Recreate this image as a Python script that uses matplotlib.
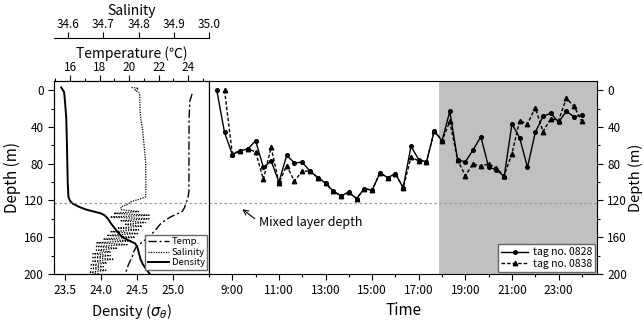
#!/usr/bin/env python3
"""Diving depth of two tags vs. a CTD profile (temperature, salinity, density)."""

import numpy as np
import matplotlib

matplotlib.use("Agg")
import matplotlib.pyplot as plt
from matplotlib.ticker import MultipleLocator, FixedLocator

plt.rcParams["font.family"] = ["Noto Sans CJK JP", "DejaVu Sans"]
plt.rcParams["axes.unicode_minus"] = False

# ---- CTD profile (left panel) ----
density_depth = [-3, 2, 10, 30, 60, 100, 116, 120, 123, 127, 130, 132, 134, 136,
                 140, 145, 150, 155, 160, 164, 167, 172, 178, 184, 189, 195, 200]
density_sigma = [23.45, 23.49, 23.50, 23.52, 23.53, 23.54, 23.55, 23.57, 23.60,
                 23.70, 23.80, 23.90, 24.00, 24.05, 24.10, 24.14, 24.19, 24.24,
                 24.30, 24.40, 24.48, 24.51, 24.53, 24.55, 24.58, 24.63, 24.68]

temp_depth = [4, 12, 30, 60, 110, 118, 122, 128, 132, 135, 138, 142, 146, 152,
              158, 164, 170, 176, 182, 188, 194, 200]
temp_value = [24.27, 24.12, 24.07, 24.06, 24.06, 23.98, 23.88, 23.75, 23.60,
              23.20, 22.80, 22.40, 22.10, 21.80, 21.45, 21.00, 20.50, 20.30,
              20.20, 20.00, 19.85, 19.75]

sal_depth = [-3, -2, 0, 2, 5, 27, 45, 78, 107, 116, 119, 121, 124, 127,
             130, 132, 134, 136, 138, 140, 142, 144, 146, 148, 150, 152, 154,
             156, 158, 160, 162, 164, 166, 168, 170, 172, 174, 176, 178, 180,
             182, 184, 186, 188, 190, 192, 194, 196, 198, 200]
sal_value = [34.78, 34.80, 34.79, 34.80, 34.803, 34.805, 34.812, 34.82, 34.821,
             34.82, 34.80, 34.78, 34.77, 34.75,
             34.75, 34.80, 34.73, 34.83, 34.72, 34.83, 34.75, 34.82, 34.76,
             34.81, 34.74, 34.80, 34.72, 34.80, 34.71, 34.79, 34.70, 34.78,
             34.68, 34.77, 34.68, 34.74, 34.68, 34.72, 34.67, 34.72, 34.67,
             34.73, 34.67, 34.71, 34.665, 34.70, 34.665, 34.71, 34.66, 34.69]

# ---- tag depth time series (right panel), hours, every 20 min ----
hours = [8.333, 8.667, 9.0, 9.333, 9.667, 10.0, 10.333, 10.667, 11.0, 11.333,
         11.667, 12.0, 12.333, 12.667, 13.0, 13.333, 13.667, 14.0, 14.333,
         14.667, 15.0, 15.333, 15.667, 16.0, 16.333, 16.667, 17.0, 17.333,
         17.667, 18.0, 18.333, 18.667, 19.0, 19.333, 19.667, 20.0, 20.333,
         20.667, 21.0, 21.333, 21.667, 22.0, 22.333, 22.667, 23.0, 23.333,
         23.667, 24.0]
tag_0828 = [0, 46, 70, 66, 64, 55, 84, 77, 100, 71, 79, 78.5, 88, 95, 101, 110,
            115, 111, 118, 107, 109, 90, 95, 91, 106, 61, 75.5, 78, 44.6, 55,
            23, 75.6, 78, 65, 50.5, 84, 86.5, 94, 36.6, 52, 84, 46, 28.6, 25,
            34.8, 23, 29, 27]
tag_0838 = [np.nan, 0, 69, 66, 64, 67, 97, 62, 101, 82, 99, 88, 88, 95, 101,
            110, 115, 111, 118, 107, 109, 90, 95, 91, 106, 73, 77, 78, 44, 55,
            34, 76, 93, 80, 83, 80, 85, 93, 69, 33, 37, 19, 45, 31, 33, 9,
            17.5, 34]

night_start = 17.85
mixed_layer_depth = 123
time_ticks = [9, 11, 13, 15, 17, 19, 21, 23]


def style_depth_axis(ax):
    ax.set_ylim(200, -10)
    ax.yaxis.set_major_locator(FixedLocator([0, 40, 80, 120, 160, 200]))
    ax.yaxis.set_minor_locator(FixedLocator([20, 60, 100, 140, 180]))
    ax.tick_params(axis="y", which="major", length=4, width=0.8, labelsize=8.5)
    ax.tick_params(axis="y", which="minor", length=2.5, width=0.8)


fig = plt.figure(figsize=(6.44, 3.23), dpi=100)
ax_d = fig.add_axes([54 / 644, 1 - 274 / 323, 155 / 644, 193 / 323])
ax_r = fig.add_axes([209 / 644, 1 - 274 / 323, 388 / 644, 193 / 323])

# left panel: density on bottom axis
ln_d, = ax_d.plot(density_sigma, density_depth, color="black", lw=1.4,
                  label="Density")
ax_d.set_xlim(23.35, 25.5)
ax_d.xaxis.set_major_locator(FixedLocator([23.5, 24.0, 24.5, 25.0]))
ax_d.set_xticklabels(["23.5", "24.0", "24.5", "25.0"])
ax_d.tick_params(axis="x", length=4, width=0.8, labelsize=8.5)
ax_d.set_xlabel("Density ($\\sigma_\\theta$)", fontsize=10.5, labelpad=3)
style_depth_axis(ax_d)
ax_d.set_ylabel("Depth (m)", fontsize=11, labelpad=2)
ax_d.axhline(mixed_layer_depth, color="0.6", lw=0.9, ls=(0, (2, 2)))

# temperature on top axis
ax_t = ax_d.twiny()
ln_t, = ax_t.plot(temp_value, temp_depth, color="black", lw=1.0,
                  ls=(0, (6, 2, 1.5, 2)), label="Temp.")
ax_t.set_xlim(14.9, 25.42)
ax_t.xaxis.set_major_locator(MultipleLocator(2))
ax_t.xaxis.set_minor_locator(MultipleLocator(1))
ax_t.tick_params(axis="x", which="major", length=4, width=0.8, labelsize=8.5, pad=1)
ax_t.tick_params(axis="x", which="minor", length=2.5, width=0.8)
ax_t.set_xlabel("Temperature (℃)", fontsize=10, labelpad=2)

# salinity on an offset top axis
ax_s = ax_d.twiny()
ln_s, = ax_s.plot(sal_value, sal_depth, color="black", lw=0.9,
                  ls=(0, (1, 1)), label="Salinity")
ax_s.set_xlim(34.56, 35.0)
ax_s.xaxis.set_major_locator(FixedLocator([34.6, 34.7, 34.8, 34.9, 35.0]))
ax_s.set_xticklabels(["34.6", "34.7", "34.8", "34.9", "35.0"])
ax_s.spines["top"].set_position(("outward", 31))
for side in ("left", "right", "bottom"):
    ax_s.spines[side].set_visible(False)
ax_s.tick_params(axis="x", length=4, width=0.8, labelsize=8.5, pad=1)
ax_s.set_xlabel("Salinity", fontsize=10, labelpad=2)
ax_s.set_ylim(200, -10)

ax_s.legend(handles=[ln_t, ln_s, ln_d], loc="lower right",
            bbox_to_anchor=(0.99, 0.02), borderaxespad=0, fontsize=6.8,
            handlelength=2.2, handletextpad=0.3, labelspacing=0.15,
            borderpad=0.3, fancybox=False, framealpha=1, edgecolor="0.4")

# right panel: tag depth time series
ax_r.axvspan(night_start, 30, color="#c0c0c0", lw=0, zorder=0)
ax_r.axhline(mixed_layer_depth, color="0.6", lw=0.9, ls=(0, (2, 2)), zorder=1)
ax_r.plot(hours, tag_0828, color="black", lw=1.0, marker="o", ms=2.6,
          label="tag no. 0828", zorder=3)
ax_r.plot(hours, tag_0838, color="black", lw=1.0, ls=(0, (2.5, 1.5)),
          marker="^", ms=3.2, label="tag no. 0838", zorder=3)
ax_r.set_xlim(8.0, 24.65)
ax_r.xaxis.set_major_locator(FixedLocator(time_ticks))
ax_r.xaxis.set_minor_locator(FixedLocator([8, 10, 12, 14, 16, 18, 20, 22, 24]))
ax_r.set_xticklabels([f"{h}:00" for h in time_ticks])
ax_r.tick_params(axis="x", which="major", length=4, width=0.8, labelsize=8.5)
ax_r.tick_params(axis="x", which="minor", length=2.5, width=0.8)
ax_r.set_xlabel("Time", fontsize=11)
ax_r.xaxis.set_label_coords(0.5, -0.145)
style_depth_axis(ax_r)
ax_r.yaxis.tick_right()
ax_r.yaxis.set_label_position("right")
ax_r.set_ylabel("Depth (m)", fontsize=10.5, labelpad=1)

ax_r.annotate("Mixed layer depth", xy=(9.43, 129.5), xytext=(10.13, 144.5),
              fontsize=9, ha="left", va="center",
              arrowprops=dict(arrowstyle="->", lw=0.8, color="black",
                              shrinkA=1, shrinkB=0, relpos=(0, 0.6)))

ax_r.legend(loc="lower right", bbox_to_anchor=(0.995, 0.01), borderaxespad=0,
            fontsize=7.5, handlelength=2.6, handletextpad=0.4,
            labelspacing=0.15, borderpad=0.3, fancybox=False, framealpha=1,
            edgecolor="0.4")

for ax in (ax_d, ax_t, ax_r):
    for spine in ax.spines.values():
        spine.set_linewidth(0.8)
ax_s.spines["top"].set_linewidth(0.8)

fig.savefig("out.png", dpi=100)
